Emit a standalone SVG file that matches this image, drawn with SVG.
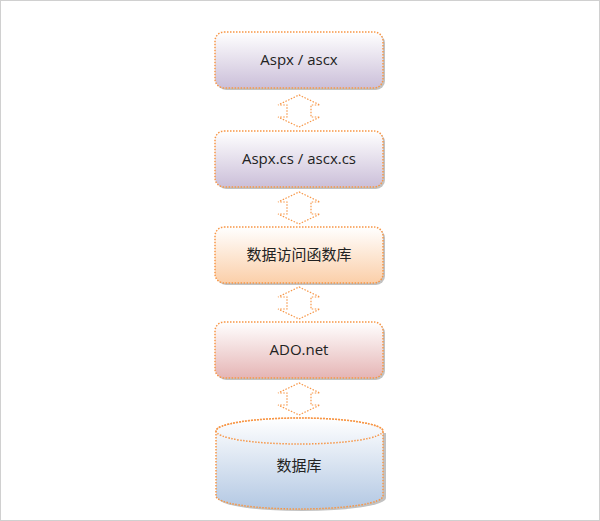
<svg xmlns="http://www.w3.org/2000/svg" width="600" height="521" viewBox="0 0 600 521">
<style>
.b{stroke:#f79646;stroke-width:1.5;stroke-dasharray:1.5 1.5}
.s{fill:#9a9a9a;opacity:.6}
.a{fill:#fff;stroke:#f79646;stroke-width:1.2;stroke-dasharray:1.5 1.5}
text{font-family:"Open Sans","Noto Sans CJK SC",sans-serif;font-size:15px;fill:#222;text-anchor:middle}
</style>
<defs>
<linearGradient id="gp" x1="0" y1="0" x2="0" y2="1"><stop offset="0" stop-color="#fff"/><stop offset="1" stop-color="#cbbfd9"/></linearGradient>
<linearGradient id="go" x1="0" y1="0" x2="0" y2="1"><stop offset="0" stop-color="#fff"/><stop offset="1" stop-color="#fbcfa9"/></linearGradient>
<linearGradient id="gr" x1="0" y1="0" x2="0" y2="1"><stop offset="0" stop-color="#fff"/><stop offset="1" stop-color="#e5b5b5"/></linearGradient>
<linearGradient id="gb" x1="0" y1="0" x2="0" y2="1"><stop offset="0" stop-color="#fff"/><stop offset="1" stop-color="#b3c8e3"/></linearGradient>
<path id="arr" d="M0,0 L21,10 L12,10 L12,22 L21,22 L0,32 L-21,22 L-12,22 L-12,10 L-21,10 Z"/>
</defs>
<rect x="0.5" y="0.5" width="599" height="520" fill="#fff" stroke="#d0d0d0"/>
<g id="connectors">
<use href="#arr" class="a" x="299" y="95"/>
<use href="#arr" class="a" x="299" y="192"/>
<use href="#arr" class="a" x="299" y="287"/>
<use href="#arr" class="a" x="299" y="383"/>
</g>
<g id="n1"><rect x="217" y="34" width="168" height="56" rx="9" class="s"/><rect x="215" y="32" width="168" height="56" rx="9" fill="url(#gp)" class="b"/><text x="299" y="65">Aspx / ascx</text></g>
<g id="n2"><rect x="217" y="133" width="168" height="56" rx="9" class="s"/><rect x="215" y="131" width="168" height="56" rx="9" fill="url(#gp)" class="b"/><text x="299" y="164">Aspx.cs / ascx.cs</text></g>
<g id="n3"><rect x="217" y="229" width="168" height="56" rx="9" class="s"/><rect x="215" y="227" width="168" height="56" rx="9" fill="url(#go)" class="b"/><text x="299" y="260">数据访问函数库</text></g>
<g id="n4"><rect x="217" y="324" width="168" height="56" rx="9" class="s"/><rect x="215" y="322" width="168" height="56" rx="9" fill="url(#gr)" class="b"/><text x="299" y="355">ADO.net</text></g>
<g id="n5">
<path d="M218,433 L218,498 A84,13 0 0 0 386,498 L386,433 Z" class="s"/>
<path d="M216,431 L216,496 A83.5,13 0 0 0 383,496 L383,431 A83.5,13 0 0 0 216,431 Z" fill="url(#gb)" class="b"/>
<ellipse cx="299.5" cy="431" rx="83.5" ry="13" fill="none" class="b"/>
<text x="299" y="471">数据库</text>
</g>
</svg>
